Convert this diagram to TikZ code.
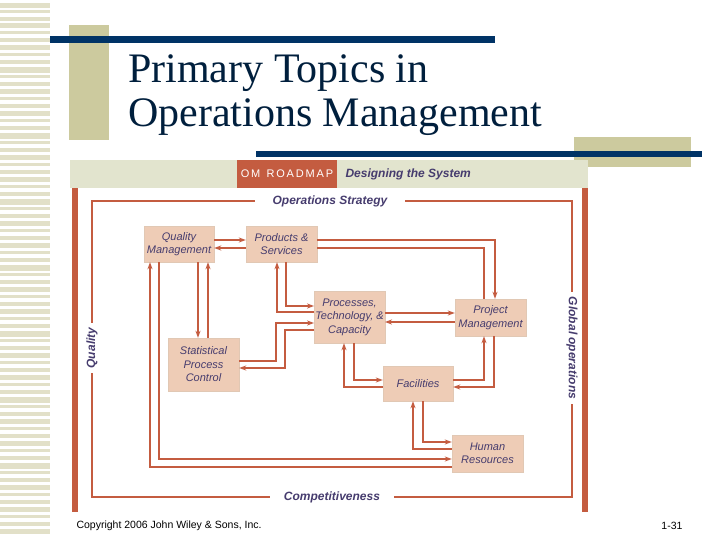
\documentclass[tikz,border=0pt]{standalone}
\usepackage{fontspec}
\setmainfont{Liberation Serif}
\newfontfamily\sansf{Liberation Sans}
\usetikzlibrary{arrows.meta}
\definecolor{beige}{RGB}{204,202,158}
\definecolor{stripe}{RGB}{226,224,200}
\definecolor{navy}{RGB}{0,51,102}
\definecolor{rust}{RGB}{196,92,64}
\definecolor{boxfill}{RGB}{238,204,182}
\definecolor{boxline}{RGB}{225,200,180}
\definecolor{band}{RGB}{226,228,206}
\definecolor{txt}{RGB}{70,60,110}
\tikzset{
  topic/.style={draw=boxline,fill=boxfill,minimum width=71pt,align=center,inner sep=1pt,font=\sansf\itshape\fontsize{11}{13.5}\selectfont,text=txt},
  conn/.style={draw=rust,line width=1.1pt},
  arr/.style={conn,-{Stealth[length=7pt,width=5pt]}},
  lab/.style={font=\sansf\bfseries\itshape\fontsize{12}{14}\selectfont,text=txt,fill=white,inner xsep=18pt,inner ysep=3pt}
}
\begin{document}
\begin{tikzpicture}[x=1pt,y=-1pt]
\useasboundingbox (0,0) rectangle (720,540);
\fill[white] (0,0) rectangle (720,540);
% left stripes
\foreach \y/\h in {3/5,10/3,17/4,23/5,31/3,38/4,45/5,53/3,60/4,67/6,75/3,82/4,89/5,97/3,104/4,111/5,119/3,126/4,133/6,141/3,148/4,155/5,163/3,170/4,177/5,185/3,192/4,199/6,207/3,214/4,221/5,229/3,236/4,243/5,251/3,258/4,265/6,273/3,280/4,287/5,295/3,302/4,309/5,317/3,324/4,331/6,339/3,346/4,353/5,361/3,368/4,375/5,383/3,390/4,397/6,405/3,412/4,419/5,427/3,434/4,441/5,449/3,456/4,463/6,471/3,478/4,485/5,493/3,500/4,507/5,515/3,522/4,529/5}
  \fill[stripe] (0,\y) rectangle (50,\y+\h);
% title decoration
\fill[beige] (69,25) rectangle (109,140);
\fill[navy] (50,36) rectangle (495,43);
\fill[beige] (574,137) rectangle (691,167);
\fill[navy] (256,151) rectangle (702,157);
\node[anchor=west,align=left,font=\fontsize{42}{44}\selectfont,text=navy!60!black,inner sep=0pt] (title) at (128,95) {Primary Topics in\\Operations Management};
% figure frame
\fill[band] (70,160) rectangle (588,188);
\fill[rust] (72,188) rectangle (78,512);
\fill[rust] (582,188) rectangle (588,512);
\node[fill=rust,minimum width=100pt,minimum height=28pt,inner sep=0pt,text=white,font=\sansf\fontsize{11}{11}\selectfont] (om) at (287,174) {O\,M\ \ R\,O\,A\,D\,M\,A\,P};
\node[anchor=west,font=\sansf\bfseries\itshape\fontsize{12}{13}\selectfont,text=txt] (dts) at (342,174) {Designing the System};
\draw[conn,line width=1.5pt] (92,201) rectangle (572,497);
\node[lab] (os) at (330,201) {Operations Strategy};
\node[lab,inner xsep=14pt] (comp) at (332,497) {Competitiveness};
\node[lab,rotate=90,inner xsep=5pt] (qual) at (92,348) {Quality};
\node[lab,rotate=-90,inner xsep=5pt] (glob) at (572,348) {Global operations};
% topics
\node[topic,minimum width=70pt,minimum height=36pt] (qm) at (179,244) {Quality\\Management};
\node[topic,minimum width=71pt,minimum height=36pt] (ps) at (281.5,244) {Products \&\\Services};
\node[topic,minimum width=69pt,minimum height=52pt] (ptc) at (349.5,317) {Processes,\\Technology, \&\\Capacity};
\node[topic,minimum width=71pt,minimum height=37pt] (pm) at (490.5,317.5) {Project\\Management};
\node[topic,minimum width=71pt,minimum height=53pt] (spc) at (203.5,364.5) {Statistical\\Process\\Control};
\node[topic,minimum width=70pt,minimum height=35pt] (fac) at (418,383.5) {Facilities};
\node[topic,minimum width=71pt,minimum height=37pt] (hr) at (487.5,453.5) {Human\\Resources};
% connectors
\draw[arr] (qm.east |- 0,240) -- (ps.west |- 0,240);
\draw[arr] (ps.west |- 0,248) -- (qm.east |- 0,248);
\draw[arr] (ps.east |- 0,240) -| (pm.north -| 495,0);
\draw[conn] (pm.north -| 484,0) |- (ps.east |- 0,248);
\draw[arr] (ptc.west |- 0,312) -| (ps.south -| 277,0);
\draw[arr] (ps.south -| 286,0) |- (ptc.west |- 0,306);
\draw[arr] (qm.south -| 198,0) -- (spc.north -| 198,0);
\draw[arr] (spc.north -| 208,0) -- (qm.south -| 208,0);
\draw[arr] (spc.east |- 0,361) -| (276,323) -- (ptc.west |- 0,323);
\draw[arr] (ptc.west |- 0,330) -| (285,368) -- (spc.east |- 0,368);
\draw[arr] (ptc.east |- 0,313) -- (pm.west |- 0,313);
\draw[arr] (pm.west |- 0,322) -- (ptc.east |- 0,322);
\draw[arr] (ptc.south -| 354,0) |- (fac.west |- 0,380);
\draw[arr] (fac.west |- 0,387) -| (ptc.south -| 344,0);
\draw[arr] (fac.east |- 0,380) -| (pm.south -| 484,0);
\draw[arr] (pm.south -| 494,0) |- (fac.east |- 0,387);
\draw[arr] (hr.west |- 0,449) -| (fac.south -| 413,0);
\draw[arr] (fac.south -| 423,0) |- (hr.west |- 0,442);
\draw[arr] (qm.south -| 159,0) |- (hr.west |- 0,459);
\draw[arr] (hr.west |- 0,467) -| (qm.south -| 150,0);
% footer
\node[anchor=west,font=\sansf\fontsize{10.5}{12}\selectfont] (copy) at (73,526) {Copyright 2006 John Wiley \& Sons, Inc.};
\node[anchor=east,font=\sansf\fontsize{10.5}{12}\selectfont] (pg) at (686,526) {1-31};
\end{tikzpicture}
\end{document}
